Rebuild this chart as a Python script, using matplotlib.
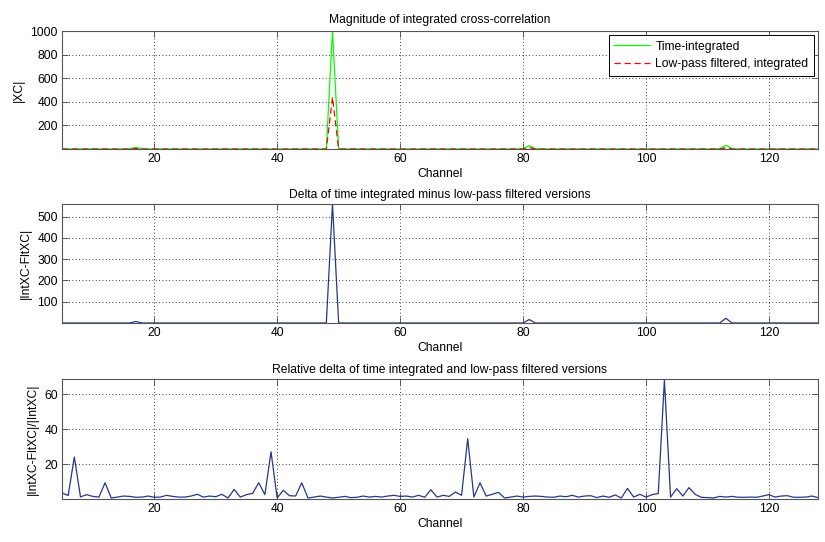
import matplotlib
matplotlib.use("Agg")
import matplotlib.pyplot as plt

plt.rcParams['font.family'] = ['Liberation Sans', 'DejaVu Sans']
plt.rcParams['font.size'] = 8.7

channels = list(range(5, 129))

# |XC| time-integrated (green) and low-pass filtered (red), channels 5..128
# rows of 16 channels: 5-20, 21-36, 37-52, 53-68, 69-84, 85-100, 101-116, 117-128
time_integrated = [
    0, 0, 0, 0, 0, 0, 0, 0, 0, 0, 0, 4, 12, 4, 0, 0,
    0, 0, 0, 0, 0, 0, 0, 0, 0, 0, 0, 0, 0, 0, 0, 0,
    0, 0, 0, 0, 0, 0, 0, 0, 0, 0, 0, 0, 1000, 0, 0, 0,
    0, 0, 0, 0, 0, 0, 0, 0, 0, 0, 0, 0, 0, 0, 0, 0,
    0, 0, 0, 0, 0, 0, 0, 0, 0, 0, 0, 3, 28, 3, 0, 0,
    0, 0, 0, 0, 0, 0, 0, 0, 0, 0, 0, 0, 0, 0, 0, 0,
    0, 0, 0, 0, 0, 0, 0, 0, 0, 0, 0, 3, 32, 3, 0, 0,
    0, 0, 0, 0, 0, 0, 0, 0, 0, 0, 0, 0,
]
lowpass_integrated = [
    0, 0, 0, 0, 0, 0, 0, 0, 0, 0, 0, 0, 5, 0, 0, 0,
    0, 0, 0, 0, 0, 0, 0, 0, 0, 0, 0, 0, 0, 0, 0, 0,
    0, 0, 0, 0, 0, 0, 0, 0, 0, 0, 0, 0, 440, 0, 0, 0,
    0, 0, 0, 0, 0, 0, 0, 0, 0, 0, 0, 0, 0, 0, 0, 0,
    0, 0, 0, 0, 0, 0, 0, 0, 0, 0, 0, 0, 12, 0, 0, 0,
    0, 0, 0, 0, 0, 0, 0, 0, 0, 0, 0, 0, 0, 0, 0, 0,
    0, 0, 0, 0, 0, 0, 0, 0, 0, 0, 0, 0, 10, 0, 0, 0,
    0, 0, 0, 0, 0, 0, 0, 0, 0, 0, 0, 0,
]
# |IntXC - FltXC|
delta = [
    0, 0, 0, 0, 0, 0, 0, 0, 0, 0, 0, 0, 7, 0, 0, 0,
    0, 0, 0, 0, 0, 0, 0, 0, 0, 0, 0, 0, 0, 0, 0, 0,
    0, 0, 0, 0, 0, 0, 0, 0, 0, 0, 0, 0, 560, 0, 0, 0,
    0, 0, 0, 0, 0, 0, 0, 0, 0, 0, 0, 0, 0, 0, 0, 0,
    0, 0, 0, 0, 0, 0, 0, 0, 0, 0, 0, 0, 16, 0, 0, 0,
    0, 0, 0, 0, 0, 0, 0, 0, 0, 0, 0, 0, 0, 0, 0, 0,
    0, 0, 0, 0, 0, 0, 0, 0, 0, 0, 0, 0, 22, 0, 0, 0,
    0, 0, 0, 0, 0, 0, 0, 0, 0, 0, 0, 0,
]
# relative delta (%)
rel_delta = [
    3.5, 2, 24, 1.2, 2.5, 1.5, 1.1, 9.3, 0.6, 1.1, 1.7, 1.5, 1, 1.1, 1.7, 1,
    1.1, 2.1, 1.5, 1.1, 1.1, 1.7, 2.7, 1.1, 1.7, 1.3, 2.7, 0.6, 5.5, 1.1, 2.5, 3.2,
    9.3, 2.5, 27, 0.6, 5, 1.9, 1.7, 9.3, 0.6, 1.1, 1.7, 1.1, 0.6, 1, 1.5, 0.8,
    1, 1.7, 1.1, 1.5, 1.1, 1.7, 2.1, 1.5, 1.7, 1.1, 2.1, 1, 5.3, 1.1, 2.1, 1.5,
    4, 2.1, 34.5, 1.1, 9.3, 1.7, 2.7, 3.8, 0.6, 1.1, 1.7, 1.1, 1.5, 1.7, 1.5, 1.1,
    1, 1.7, 1.3, 2.1, 1.1, 1.7, 1.9, 0.8, 1.7, 1, 2.3, 0.6, 6.1, 1.1, 2.7, 1.1,
    2.5, 3.1, 68, 1.1, 5.9, 1.7, 6.5, 2.7, 1, 0.8, 0.6, 1.5, 1.1, 1.5, 1, 1,
    1.1, 1, 1.7, 2.5, 1.1, 1.7, 1.9, 1, 1, 1.1, 1.7, 0.8,
]

xticks = [20, 40, 60, 80, 100, 120]
navy = '#26378a'


def style_axes(ax, yticks):
    ax.set_xlim(5, 128)
    ax.set_xticks(xticks)
    ax.set_yticks(yticks)
    ax.grid(True, color='black', linestyle=(0, (1, 3)), linewidth=0.6)
    ax.tick_params(direction='in', top=True, right=True, length=4,
                   width=0.6, color='#444444', labelsize=8.7, pad=3)
    for s in ax.spines.values():
        s.set_color('#555555')
        s.set_linewidth(0.8)
    ax.set_xlabel('Channel', labelpad=2)


fig = plt.figure(figsize=(8.25, 5.42), dpi=100)
ax1 = fig.add_axes([0.0752, 0.7251, 0.9164, 0.2177])
ax2 = fig.add_axes([0.0752, 0.4041, 0.9164, 0.2196])
ax3 = fig.add_axes([0.0752, 0.0793, 0.9164, 0.2214])

ax1.plot(channels, time_integrated, color='#00ff00', linewidth=0.9,
         label='Time-integrated')
ax1.plot(channels, lowpass_integrated, color='#ff0000', linewidth=0.9,
         linestyle=(0, (5, 3)), label='Low-pass filtered, integrated')
ax1.set_ylim(0, 1000)
style_axes(ax1, [200, 400, 600, 800, 1000])
ax1.set_ylabel('|XC|', labelpad=4)
ax1.set_title('Magnitude of integrated cross-correlation', fontsize=8.7, pad=6)
leg = ax1.legend(loc='upper right', fontsize=8.7, fancybox=False,
                 framealpha=1, edgecolor='black', borderpad=0.45,
                 handlelength=3.0, handletextpad=0.4, labelspacing=0.45,
                 borderaxespad=0.35)
leg.get_frame().set_linewidth(0.7)

ax2.plot(channels, delta, color=navy, linewidth=0.9)
ax2.set_ylim(0, 560)
style_axes(ax2, [100, 200, 300, 400, 500])
ax2.set_ylabel('|IntXC-FltXC|', labelpad=4)
ax2.set_title('Delta of time integrated minus low-pass filtered versions',
              fontsize=8.7, pad=4)

ax3.plot(channels, rel_delta, color=navy, linewidth=0.9)
ax3.set_ylim(0, 68.6)
style_axes(ax3, [20, 40, 60])
ax3.set_ylabel('|IntXC-FltXC|/|IntXC|', labelpad=4)
ax3.set_title('Relative delta of time integrated and low-pass filtered versions',
              fontsize=8.7, pad=4)

fig.savefig('out.png', dpi=100)
